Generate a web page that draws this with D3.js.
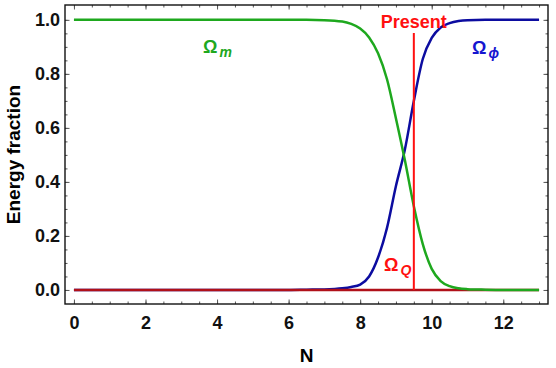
<!DOCTYPE html>
<html>
<head>
<meta charset="utf-8">
<script src="https://cdn.jsdelivr.net/npm/d3@7"></script>
<style>
  body { margin: 0; background: #fff; }
  text { font-family: "Liberation Sans", Arial, sans-serif; }
</style>
</head>
<body>
<script>
// values
var nValues   = [0, 6, 6.5, 7, 7.5, 7.75, 8, 8.25, 8.5, 8.75, 9, 9.25, 9.5, 9.75, 10, 10.25, 10.5, 10.75, 11, 11.5, 12, 13]
var omegaM    = [1, 1, 1, 0.999, 0.994, 0.985, 0.968, 0.935, 0.876, 0.78, 0.635, 0.48, 0.31, 0.17, 0.078, 0.033, 0.014, 0.006, 0.003, 0.001, 0, 0]
var omegaPhi  = [0, 0, 0.001, 0.002, 0.006, 0.011, 0.02, 0.05, 0.12, 0.23, 0.385, 0.52, 0.7, 0.855, 0.933, 0.972, 0.988, 0.996, 0.999, 1, 1, 1]
var omegaQ    = [0, 0, 0, 0, 0, 0, 0, 0, 0, 0, 0, 0, 0, 0, 0, 0, 0, 0, 0, 0, 0, 0]
var presentN  = 9.5
var xTicks = [0, 2, 4, 6, 8, 10, 12]
var yTicks = [0, 0.2, 0.4, 0.6, 0.8, 1.0]

var width = 556, height = 368
var pLeft = 65, pRight = 548, pTop = 5, pBottom = 304

var svg = d3.select("body").append("svg")
    .attr("width", width)
    .attr("height", height)

var x = d3.scaleLinear().domain([-0.25, 13.25]).range([pLeft, pRight])
var y = d3.scaleLinear().domain([-0.052, 1.055]).range([pBottom, pTop])

var xMinor = d3.range(0, 13.01, 0.5)
var yMinor = d3.range(0, 1.001, 0.05)

function tickStyle(g) {
  g.select(".domain").remove()
  g.selectAll("line").attr("stroke", "#555").attr("stroke-width", 1)
}

// minor ticks
svg.append("g").attr("transform", "translate(0," + pBottom + ")")
  .call(d3.axisBottom(x).tickValues(xMinor).tickFormat("").tickSize(-2.5)).call(tickStyle)
svg.append("g").attr("transform", "translate(0," + pTop + ")")
  .call(d3.axisTop(x).tickValues(xMinor).tickFormat("").tickSize(-2.5)).call(tickStyle)
svg.append("g").attr("transform", "translate(" + pLeft + ",0)")
  .call(d3.axisLeft(y).tickValues(yMinor).tickFormat("").tickSize(-2.5)).call(tickStyle)
svg.append("g").attr("transform", "translate(" + pRight + ",0)")
  .call(d3.axisRight(y).tickValues(yMinor).tickFormat("").tickSize(-2.5)).call(tickStyle)

// major ticks
svg.append("g").attr("transform", "translate(0," + pBottom + ")")
  .call(d3.axisBottom(x).tickValues(xTicks).tickFormat(d3.format("d")).tickSize(-4.5).tickPadding(12))
  .call(tickStyle)
svg.append("g").attr("transform", "translate(0," + pTop + ")")
  .call(d3.axisTop(x).tickValues(xTicks).tickFormat("").tickSize(-4.5)).call(tickStyle)
svg.append("g").attr("transform", "translate(" + pLeft + ",0)")
  .call(d3.axisLeft(y).tickValues(yTicks).tickFormat(d3.format(".1f")).tickSize(-4.5).tickPadding(5))
  .call(tickStyle)
svg.append("g").attr("transform", "translate(" + pRight + ",0)")
  .call(d3.axisRight(y).tickValues(yTicks).tickFormat("").tickSize(-4.5)).call(tickStyle)

svg.selectAll(".tick text")
    .attr("font-family", "Liberation Sans, Arial, sans-serif")
    .attr("font-size", 18)
    .attr("font-weight", "bold")
    .attr("fill", "#111")

// curves
var line = function(vals) {
  return d3.line()
    .x(function(d, i){ return x(nValues[i]) })
    .y(function(d){ return y(d) })
    .curve(d3.curveMonotoneX)(vals)
}

svg.append("path").attr("d", line(omegaPhi))
    .attr("fill", "none").attr("stroke", "#0c0ca0").attr("stroke-width", 2.5)
svg.append("path").attr("d", line(omegaQ))
    .attr("fill", "none").attr("stroke", "#b01019").attr("stroke-width", 2.5)
svg.append("path").attr("d", line(omegaM))
    .attr("fill", "none").attr("stroke", "#1ea81e").attr("stroke-width", 2.5)

// present line
svg.append("line")
    .attr("x1", x(presentN)).attr("x2", x(presentN))
    .attr("y1", 33).attr("y2", y(0))
    .attr("stroke", "#ff1010").attr("stroke-width", 2)

// frame
svg.append("rect")
    .attr("x", pLeft).attr("y", pTop)
    .attr("width", pRight - pLeft).attr("height", pBottom - pTop)
    .attr("fill", "none").attr("stroke", "#111").attr("stroke-width", 1.4)

// axis titles
svg.append("text")
    .attr("x", (pLeft + pRight) / 2).attr("y", 362)
    .attr("text-anchor", "middle")
    .attr("font-size", 19).attr("font-weight", "bold")
    .text("N")

svg.append("text")
    .attr("transform", "translate(20," + (pTop + pBottom) / 2 + ") rotate(-90)")
    .attr("text-anchor", "middle")
    .attr("font-size", 19).attr("font-weight", "bold")
    .text("Energy fraction")

// curve labels
function omegaLabel(px, py, sub, color) {
  var t = svg.append("text")
      .attr("x", px).attr("y", py)
      .attr("fill", color)
      .attr("font-weight", "bold")
  t.append("tspan").attr("font-size", 18).text("\u03A9")
  t.append("tspan").attr("font-size", 14).attr("font-style", "italic")
      .attr("dx", 2).attr("dy", 4).text(sub)
}

omegaLabel(203, 53, "m", "#1ea81e")
omegaLabel(472, 54, "\u03D5", "#1515d0")
omegaLabel(384, 271, "Q", "#ff1010")

svg.append("text")
    .attr("x", x(presentN)).attr("y", 28)
    .attr("text-anchor", "middle")
    .attr("fill", "#ff1010")
    .attr("font-size", 18).attr("font-weight", "bold")
    .text("Present")
</script>
</body>
</html>
